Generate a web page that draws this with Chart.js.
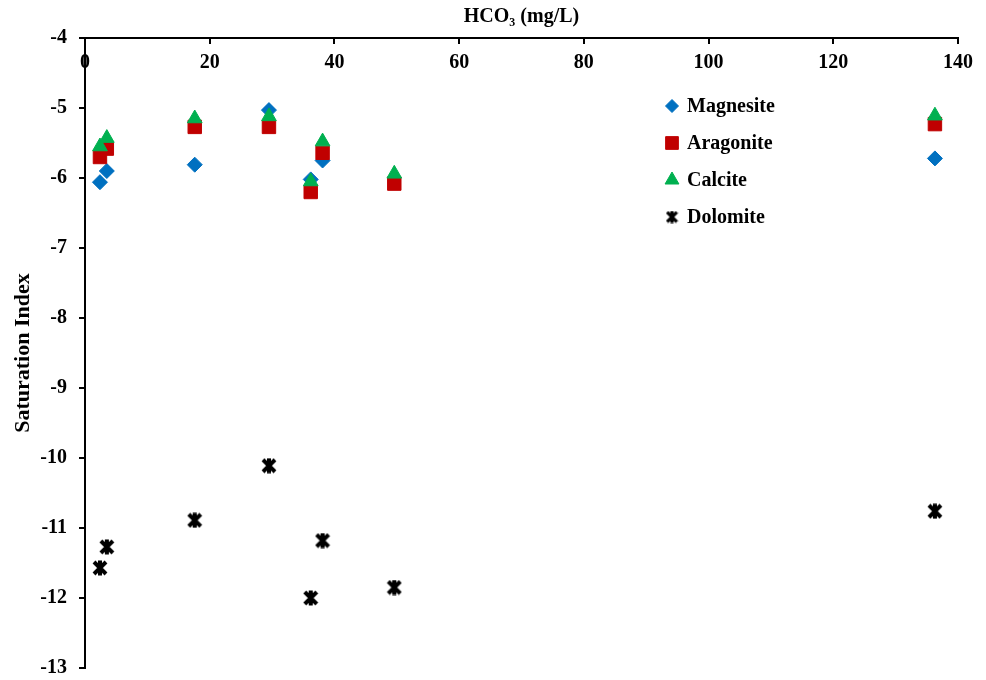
<!DOCTYPE html>
<html>
<head>
<meta charset="utf-8">
<script src="https://cdn.jsdelivr.net/npm/chart.js@4.4.1/dist/chart.umd.min.js"></script>
<style>
  html, body { margin: 0; padding: 0; background: #fff; }
</style>
</head>
<body>
<canvas id="myChart" width="986" height="680"></canvas>
<script>
// HCO3 of each sample (mg/L)
const hco3 = [2.4, 3.5, 17.6, 29.5, 36.2, 38.1, 49.6, 136.3];

// saturation index of each mineral (null = covered by other markers)
const magnesite = [-6.06, -5.9, -5.81, -5.03, -6.02, -5.75, null, -5.72];
const aragonite = [-5.7, -5.58, -5.27, -5.27, -6.2, -5.64, -6.08, -5.23];
const calcite = [-5.55, -5.43, -5.15, -5.12, -6.05, -5.48, -5.94, -5.11];
const dolomite = [-11.57, -11.27, -10.89, -10.11, -12.0, -11.18, -11.85, -10.76];

const xTicks = [0, 20, 40, 60, 80, 100, 120, 140];
const yTicks = [-4, -5, -6, -7, -8, -9, -10, -11, -12, -13];

const serif = "'Liberation Serif', 'Times New Roman', serif";
const boldFont = { family: serif, size: 20, weight: "bold" };

// excel-like star marker (X with a vertical bar)
function makeStar(size, lw) {
  const c = document.createElement("canvas");
  c.width = size;
  c.height = size;
  const g = c.getContext("2d");
  const p = lw / 2;
  g.strokeStyle = "#000";
  g.lineWidth = lw;
  g.beginPath();
  g.moveTo(p, p);
  g.lineTo(size - p, size - p);
  g.moveTo(size - p, p);
  g.lineTo(p, size - p);
  g.moveTo(size / 2, 0.5);
  g.lineTo(size / 2, size - 0.5);
  g.stroke();
  return c;
}

const starBig = makeStar(16, 4);
const starSmall = makeStar(13, 3.2);

const toPoints = (ys) => hco3.map((x, i) => ({ x: x, y: ys[i] }));

const datasets = [
  { label: "Magnesite", data: toPoints(magnesite), pointStyle: "rectRot", pointRadius: 7.5,
    backgroundColor: "#0070C0", borderColor: "#0070C0", borderWidth: 1, order: 4, legendRadius: 6.5 },
  { label: "Aragonite", data: toPoints(aragonite), pointStyle: "rect", pointRadius: 9.5,
    backgroundColor: "#C00000", borderColor: "#C00000", borderWidth: 1, order: 3, legendRadius: 9 },
  { label: "Calcite", data: toPoints(calcite), pointStyle: "triangle", pointRadius: 8.5,
    backgroundColor: "#00B050", borderColor: "#00B050", borderWidth: 1, order: 2, legendRadius: 8 },
  { label: "Dolomite", data: toPoints(dolomite), pointStyle: starBig, pointRadius: 8,
    backgroundColor: "#000", borderColor: "#000", borderWidth: 0, order: 1, legendStyle: starSmall },
];

// tick labels of the top axis sit under the axis line
const xLabels = {
  id: "xLabels",
  afterDraw(chart) {
    const sc = chart.scales.x;
    const ctx = chart.ctx;
    ctx.save();
    ctx.font = "bold 20px " + serif;
    ctx.fillStyle = "#000";
    ctx.textAlign = "center";
    ctx.textBaseline = "middle";
    xTicks.forEach((v) => {
      ctx.fillText(String(v), sc.getPixelForValue(v), sc.bottom + 25);
    });
    ctx.restore();
  },
};

// legend inside the plot, right side
const legendBox = {
  id: "legendBox",
  afterDraw(chart) {
    const ctx = chart.ctx;
    ctx.save();
    chart.data.datasets.forEach((ds, i) => {
      const y = 106 + i * 37;
      ctx.fillStyle = ds.backgroundColor;
      ctx.strokeStyle = ds.borderColor;
      ctx.lineWidth = ds.borderWidth;
      Chart.helpers.drawPoint(ctx, {
        pointStyle: ds.legendStyle || ds.pointStyle,
        radius: ds.legendRadius || 7,
        borderWidth: ds.borderWidth,
        rotation: 0,
      }, 672, y);
      ctx.fillStyle = "#000";
      ctx.font = "bold 20px " + serif;
      ctx.textAlign = "left";
      ctx.textBaseline = "middle";
      ctx.fillText(ds.label, 687, y + 1);
    });
    ctx.restore();
  },
};

const ctx = document.getElementById("myChart").getContext("2d");
const myChart = new Chart(ctx, {
  type: "scatter",
  data: { datasets: datasets },
  options: {
    responsive: false,
    animation: false,
    devicePixelRatio: 1,
    layout: { padding: { left: 0, top: 0, right: 28, bottom: 12 } },
    plugins: {
      legend: { display: false },
      tooltip: { enabled: false },
    },
    scales: {
      x: {
        type: "linear",
        position: "top",
        min: 0,
        max: 140,
        afterBuildTicks: (s) => { s.ticks = xTicks.map((v) => ({ value: v })); },
        afterFit: (s) => { s.height = 38; },
        grid: { drawOnChartArea: false, drawTicks: true, tickLength: -6, color: "#000", tickColor: "#000", lineWidth: 2 },
        border: { display: true, color: "#000", width: 2 },
        ticks: { display: false },
        title: { display: true, text: "HCO₃ (mg/L)", color: "#000", font: boldFont, padding: { top: 5, bottom: 0 } },
      },
      y: {
        type: "linear",
        min: -13,
        max: -4,
        afterBuildTicks: (s) => { s.ticks = yTicks.map((v) => ({ value: v })); },
        afterFit: (s) => {
          s.width = 85;
          s.paddingTop = 0;
          s.paddingBottom = 0;
        },
        grid: { drawOnChartArea: false, drawTicks: true, tickLength: 6, color: "#000", tickColor: "#000", lineWidth: 2 },
        border: { display: true, color: "#000", width: 2 },
        ticks: { color: "#000", font: boldFont, padding: 12 },
        title: { display: true, text: "Saturation Index", color: "#000",
          font: { family: serif, size: 22, weight: "bold" }, padding: { top: 10, bottom: 0 } },
      },
    },
  },
  plugins: [xLabels, legendBox],
});
</script>
</body>
</html>
